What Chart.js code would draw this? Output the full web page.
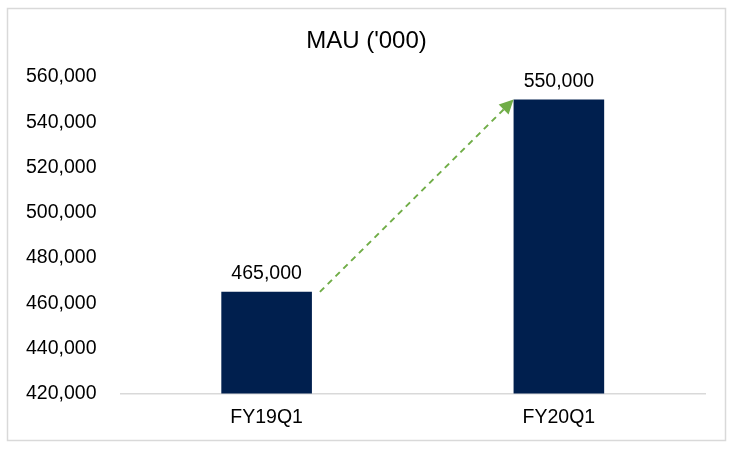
<!DOCTYPE html>
<html>
<head>
<meta charset="utf-8">
<script src="https://cdn.jsdelivr.net/npm/chart.js@4"></script>
<style>
  html, body { margin: 0; padding: 0; background: #ffffff; }
  #wrap { width: 733px; height: 449px; position: relative; }
</style>
</head>
<body>
<div id="wrap"><canvas id="chart"></canvas></div>
<script>
var categories = ['FY19Q1', 'FY20Q1'];
var mauValues = [465000, 550000];
var yTicks = [420000, 440000, 460000, 480000, 500000, 520000, 540000, 560000];
var chartTitle = "MAU ('000)";

var FONT = "'Liberation Sans', Arial, sans-serif";

function fmt(v) {
  return Number(v).toLocaleString('en-US');
}

// frame, title, value labels and the growth arrow
var decorPlugin = {
  id: 'decor',
  beforeDraw: function (chart) {
    var ctx = chart.ctx;
    ctx.save();
    ctx.fillStyle = '#ffffff';
    ctx.fillRect(0, 0, chart.width, chart.height);
    ctx.strokeStyle = '#d9d9d9';
    ctx.lineWidth = 1.5;
    ctx.strokeRect(7.5, 8.5, 718, 432);
    ctx.restore();
  },
  afterDatasetsDraw: function (chart) {
    var ctx = chart.ctx;
    var meta = chart.getDatasetMeta(0);
    var yScale = chart.scales.y;
    ctx.save();

    ctx.fillStyle = '#000000';
    ctx.font = '24px ' + FONT;
    ctx.textAlign = 'center';
    ctx.textBaseline = 'middle';
    ctx.fillText(chartTitle, chart.width / 2, 41);

    ctx.font = '19.5px ' + FONT;
    ctx.textBaseline = 'bottom';
    meta.data.forEach(function (bar, i) {
      ctx.fillText(fmt(mauValues[i]), bar.x, bar.y - 8);
    });

    var b0 = meta.data[0], b1 = meta.data[1];
    var x0 = b0.x + b0.width / 2 + 8;
    var y0 = yScale.getPixelForValue(mauValues[0]);
    var x1 = b1.x - b1.width / 2;
    var y1 = yScale.getPixelForValue(mauValues[1]);
    var ang = Math.atan2(y1 - y0, x1 - x0);
    var head = 14;
    var bx = x1 - head * Math.cos(ang);
    var by = y1 - head * Math.sin(ang);

    ctx.strokeStyle = '#70ad47';
    ctx.lineWidth = 2;
    ctx.setLineDash([6, 5]);
    ctx.beginPath();
    ctx.moveTo(x0, y0);
    ctx.lineTo(bx, by);
    ctx.stroke();
    ctx.setLineDash([]);

    ctx.fillStyle = '#70ad47';
    ctx.beginPath();
    ctx.moveTo(x1, y1);
    ctx.lineTo(bx + 7 * Math.sin(ang), by - 7 * Math.cos(ang));
    ctx.lineTo(bx - 7 * Math.sin(ang), by + 7 * Math.cos(ang));
    ctx.closePath();
    ctx.fill();

    ctx.restore();
  }
};

var ctx = document.getElementById('chart').getContext('2d');
var chart = new Chart(ctx, {
  type: 'bar',
  data: {
    labels: categories,
    datasets: [{
      label: 'MAU',
      data: mauValues,
      backgroundColor: '#001f4e',
      borderWidth: 0,
      categoryPercentage: 1.0,
      barPercentage: 0.31
    }]
  },
  options: {
    responsive: true,
    maintainAspectRatio: false,
    animation: false,
    devicePixelRatio: 1,
    layout: { padding: { left: 2, right: 28, top: 77, bottom: 8 } },
    plugins: {
      legend: { display: false },
      title: { display: false },
      tooltip: { enabled: false }
    },
    scales: {
      x: {
        grid: { display: false, drawTicks: false },
        border: { display: true, color: '#d9d9d9', width: 1.5 },
        ticks: { color: '#000000', font: { family: FONT, size: 19.5 }, padding: 12 }
      },
      y: {
        min: yTicks[0],
        max: yTicks[yTicks.length - 1],
        afterBuildTicks: function (axis) {
          axis.ticks = yTicks.map(function (v) { return { value: v }; });
        },
        grid: { display: false, drawTicks: false },
        border: { display: false },
        ticks: {
          color: '#000000',
          font: { family: FONT, size: 19.5 },
          padding: 24,
          callback: function (v) { return fmt(v); }
        }
      }
    }
  },
  plugins: [decorPlugin]
});
</script>
</body>
</html>
